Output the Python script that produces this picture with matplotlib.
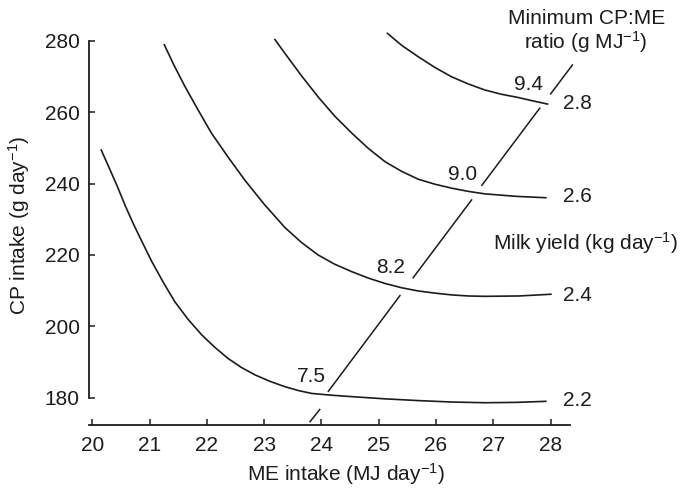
import numpy as np
import matplotlib
matplotlib.use("Agg")
import matplotlib.pyplot as plt

plt.rcParams["font.family"] = ["Liberation Sans", "DejaVu Sans"]
plt.rcParams["mathtext.default"] = "regular"

# ---------------------------------------------------------------------------
# Data (ME intake in MJ/day, CP intake in g/day)
# ---------------------------------------------------------------------------
milk_yields = ["2.2", "2.4", "2.6", "2.8"]

me_22 = [20.15, 20.30, 20.45, 20.58, 20.72, 20.88, 21.04, 21.24, 21.44, 21.67,
         21.91, 22.14, 22.37, 22.60, 22.84, 23.10, 23.36, 23.60, 23.83, 24.18,
         24.53, 25.10, 25.69, 26.27, 26.85, 27.40, 27.93]
cp_22 = [249.6, 244.2, 238.7, 233.6, 228.6, 223.3, 218.1, 212.3, 206.9, 202.0,
         197.6, 194.1, 191.0, 188.5, 186.4, 184.6, 183.1, 182.0, 181.2, 180.7,
         180.3, 179.7, 179.2, 178.8, 178.6, 178.7, 179.0]

me_24 = [21.25, 21.43, 21.62, 21.85, 22.08, 22.37, 22.66, 23.00, 23.36, 23.65,
         23.94, 24.23, 24.53, 24.82, 25.11, 25.40, 25.69, 25.98, 26.27, 26.56,
         26.85, 27.45, 28.02]
cp_24 = [279.1, 273.0, 267.1, 260.5, 254.1, 247.4, 241.0, 234.2, 227.7, 223.5,
         220.0, 217.4, 215.3, 213.5, 212.0, 210.8, 209.9, 209.3, 208.8, 208.5,
         208.4, 208.5, 209.0]

me_26 = [23.18, 23.36, 23.65, 23.94, 24.23, 24.53, 24.82, 25.11, 25.40, 25.69,
         25.98, 26.27, 26.56, 26.85, 27.40, 27.93]
cp_26 = [280.5, 276.5, 270.2, 264.3, 258.9, 254.1, 249.8, 246.1, 243.4, 241.2,
         239.8, 238.7, 237.8, 237.1, 236.4, 236.0]

me_28 = [25.14, 25.40, 25.69, 25.98, 26.27, 26.56, 26.85, 27.14, 27.43, 27.70,
         27.96]
cp_28 = [282.2, 278.7, 275.5, 272.5, 269.9, 267.9, 266.2, 265.0, 264.1, 263.1,
         262.2]

# minimum CP:ME ratio line (drawn with gaps where it crosses curves/labels)
ratio_me = [23.80, 23.97, np.nan, 24.12, 25.37, np.nan, 25.60, 26.62, np.nan,
            26.80, 27.81, np.nan, 28.00, 28.38]
ratio_cp = [173.3, 176.7, np.nan, 181.8, 208.6, np.nan, 213.6, 235.4, np.nan,
            239.5, 261.1, np.nan, 265.1, 273.2]
ratio_labels = ["7.5", "8.2", "9.0", "9.4"]
ratio_label_me = [23.83, 25.20, 26.47, 27.61]
ratio_label_cp = [186.0, 216.4, 242.4, 267.6]

yield_label_cp = [179.2, 208.6, 236.3, 262.5]

x_ticks = [20, 21, 22, 23, 24, 25, 26, 27, 28]
y_ticks = [180, 200, 220, 240, 260, 280]

INK = "#1c1c1c"
FS = 15

fig = plt.figure(figsize=(6.81, 4.88), dpi=100)
ax = fig.add_axes([0.1313, 0.1301, 0.7530, 0.8158])

curves = [(me_22, cp_22), (me_24, cp_24), (me_26, cp_26), (me_28, cp_28)]
for (xs, ys) in curves:
    ax.plot(xs, ys, color=INK, lw=1.2, solid_joinstyle="round",
            solid_capstyle="butt", clip_on=False)

ax.plot(ratio_me, ratio_cp, color=INK, lw=1.1, clip_on=False)

for lab, xx, yy in zip(ratio_labels, ratio_label_me, ratio_label_cp):
    ax.text(xx, yy, lab, fontsize=FS, color=INK, ha="center", va="center")

for lab, yy in zip(milk_yields, yield_label_cp):
    ax.text(28.22, yy, lab, fontsize=FS, color=INK, ha="left", va="center")

ax.text(27.0, 223.2, "Milk yield (kg day$^{-1}$)", fontsize=FS, color=INK,
        ha="left", va="center")
ax.text(28.62, 282.5, "Minimum CP:ME\nratio (g MJ$^{-1}$)", fontsize=FS,
        color=INK, ha="center", va="center", linespacing=1.05)

ax.set_xlim(19.95, 28.9)
ax.set_ylim(172.5, 284)

for side in ["top", "right"]:
    ax.spines[side].set_visible(False)
ax.spines["left"].set_bounds(180, 280)
ax.spines["bottom"].set_bounds(19.95, 28.33)
for side in ["left", "bottom"]:
    ax.spines[side].set_linewidth(1.3)
    ax.spines[side].set_color(INK)

ax.set_xticks(x_ticks)
ax.set_yticks(y_ticks)
ax.tick_params(axis="both", direction="in", length=4.5, width=1.1,
               colors=INK, labelsize=FS)
ax.tick_params(axis="x", pad=8)
ax.tick_params(axis="y", pad=7)

ax.set_xlabel("ME intake (MJ day$^{-1}$)", fontsize=FS, color=INK, labelpad=5)
ax.set_ylabel("CP intake (g day$^{-1}$)", fontsize=FS, color=INK, labelpad=9)

fig.savefig("out.png", dpi=100)
